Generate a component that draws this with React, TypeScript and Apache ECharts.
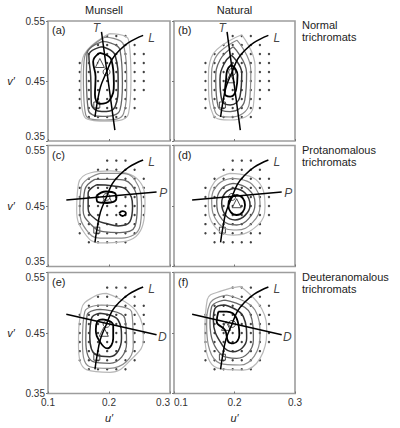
import React, { useEffect, useRef } from "react";
import * as echarts from "echarts";

// ---- data ----
const SAMPLE_U = [0.152, 0.167, 0.182, 0.197, 0.212, 0.227, 0.242, 0.257];
const SAMPLE_V = [0.39, 0.405, 0.42, 0.435, 0.45, 0.465, 0.48, 0.495, 0.51, 0.525];
// first and last sampled column for each row of the stimulus grid (bottom to top)
const SAMPLE_ROWS = [[1, 5], [0, 6], [0, 6], [0, 7], [0, 7], [0, 7], [0, 7], [1, 7], [2, 6], [3, 5]];

const WHITE_POINT = [0.196, 0.465];
const SQUARE_POINT = [0.18, 0.41];

const L_CURVE = [[0.177, 0.39], [0.18, 0.41], [0.186, 0.44], [0.196, 0.465], [0.205, 0.486], [0.216, 0.5], [0.232, 0.514], [0.256, 0.526]];
const T_LINE = [[0.1877, 0.532], [0.2096, 0.368]];
const P_LINE = [[0.13, 0.46], [0.278, 0.473]];
const D_LINE = [[0.13, 0.481], [0.278, 0.447]];

const L_LABEL = [0.27, 0.522];
const T_LABEL = [0.1795, 0.538];
const P_LABEL = [0.289, 0.471];
const D_LABEL = [0.2875, 0.444];

const MEAN_A = [0.185, 0.48];
const MEAN_B = [0.193, 0.4545];
const MEAN_C = [0.197, 0.464];
const MEAN_D = [0.2036, 0.4546];
const MEAN_E = [0.1915, 0.452];
const MEAN_F = [0.186, 0.4618];

const CONTOURS_A = [
  [[0.185, 0.497], [0.204, 0.485], [0.208, 0.446], [0.201, 0.418], [0.185, 0.412], [0.177, 0.427], [0.178, 0.457], [0.174, 0.482]],
  [[0.188, 0.507], [0.21, 0.493], [0.215, 0.446], [0.21, 0.407], [0.188, 0.399], [0.171, 0.413], [0.17, 0.457], [0.167, 0.493]],
  [[0.19, 0.516], [0.218, 0.502], [0.222, 0.446], [0.218, 0.402], [0.19, 0.391], [0.166, 0.402], [0.163, 0.457], [0.164, 0.496]],
  [[0.193, 0.523], [0.224, 0.51], [0.229, 0.446], [0.224, 0.396], [0.193, 0.385], [0.162, 0.393], [0.158, 0.457], [0.16, 0.49]],
  [[0.201, 0.529], [0.232, 0.519], [0.236, 0.452], [0.232, 0.396], [0.201, 0.383], [0.16, 0.39], [0.154, 0.452], [0.157, 0.488]],
];
const CONTOURS_B = [
  [[0.195, 0.477], [0.205, 0.46], [0.2025, 0.435], [0.193, 0.424], [0.184, 0.429], [0.186, 0.452], [0.188, 0.468]],
  [[0.195, 0.493], [0.212, 0.463], [0.209, 0.424], [0.193, 0.41], [0.179, 0.418], [0.176, 0.452], [0.183, 0.479]],
  [[0.198, 0.507], [0.22, 0.463], [0.217, 0.418], [0.193, 0.399], [0.173, 0.407], [0.169, 0.452], [0.176, 0.485]],
  [[0.204, 0.518], [0.227, 0.468], [0.2245, 0.413], [0.193, 0.39], [0.168, 0.399], [0.162, 0.452], [0.168, 0.488]],
  [[0.212, 0.527], [0.234, 0.474], [0.231, 0.407], [0.193, 0.385], [0.165, 0.393], [0.157, 0.452], [0.162, 0.49]],
];
const CONTOURS_C = [
  [[0.1795, 0.467], [0.195, 0.474], [0.21, 0.471], [0.212, 0.462], [0.197, 0.455], [0.181, 0.457]],
  [[0.1795, 0.485], [0.207, 0.483], [0.229, 0.4765], [0.2386, 0.449], [0.2343, 0.424], [0.215, 0.417], [0.196, 0.421], [0.1795, 0.427], [0.1658, 0.446], [0.1658, 0.471]],
  [[0.1767, 0.494], [0.2096, 0.494], [0.237, 0.4847], [0.2463, 0.449], [0.2425, 0.416], [0.2178, 0.406], [0.1904, 0.4076], [0.1713, 0.4186], [0.1576, 0.443], [0.1603, 0.4765]],
  [[0.185, 0.504], [0.2178, 0.504], [0.2425, 0.493], [0.2534, 0.449], [0.2507, 0.416], [0.2206, 0.397], [0.185, 0.397], [0.1631, 0.41], [0.1521, 0.443], [0.1548, 0.482]],
  [[0.2014, 0.508], [0.245, 0.496], [0.259, 0.455], [0.256, 0.421], [0.2233, 0.391], [0.185, 0.389], [0.16, 0.405], [0.147, 0.443], [0.15, 0.487], [0.17, 0.505]],
];
const CONTOUR_C_ISLAND = [[0.2167, 0.438], [0.222, 0.4415], [0.2277, 0.438], [0.222, 0.4335]];
const CONTOURS_D = [
  [[0.2036, 0.4682], [0.2134, 0.4634], [0.2174, 0.4517], [0.2134, 0.44], [0.2036, 0.4351], [0.1938, 0.44], [0.1898, 0.4517], [0.1938, 0.4634]],
  [[0.1995, 0.4792], [0.2175, 0.4715], [0.2257, 0.4517], [0.2175, 0.4345], [0.2009, 0.4269], [0.1855, 0.4345], [0.1788, 0.4544], [0.1845, 0.4715]],
  [[0.198, 0.4875], [0.2225, 0.478], [0.2339, 0.4544], [0.2235, 0.429], [0.2036, 0.4186], [0.18, 0.427], [0.1706, 0.4572], [0.179, 0.479]],
  [[0.1953, 0.4957], [0.229, 0.486], [0.2422, 0.4517], [0.23, 0.423], [0.2036, 0.4103], [0.174, 0.421], [0.1623, 0.4599], [0.173, 0.486]],
  [[0.1926, 0.504], [0.235, 0.494], [0.2504, 0.4489], [0.238, 0.418], [0.1981, 0.402], [0.168, 0.415], [0.1568, 0.4544], [0.167, 0.49]],
];
const CONTOURS_E = [
  [[0.1904, 0.4726], [0.2069, 0.4632], [0.2069, 0.4412], [0.197, 0.4246], [0.185, 0.4357], [0.1784, 0.455], [0.1806, 0.4687]],
  [[0.185, 0.4825], [0.215, 0.4715], [0.2205, 0.4412], [0.2014, 0.4109], [0.1795, 0.4136], [0.1685, 0.4439], [0.1713, 0.4742]],
  [[0.185, 0.4891], [0.226, 0.4742], [0.2288, 0.4329], [0.2014, 0.3999], [0.174, 0.4026], [0.162, 0.4384], [0.1641, 0.4797]],
  [[0.1877, 0.4963], [0.237, 0.4853], [0.2397, 0.4274], [0.2014, 0.3916], [0.1685, 0.3943], [0.1565, 0.4384], [0.1603, 0.4853]],
  [[0.1959, 0.5156], [0.2452, 0.4853], [0.2562, 0.4384], [0.24, 0.41], [0.2014, 0.385], [0.164, 0.389], [0.15, 0.43], [0.155, 0.49], [0.175, 0.51]],
];
const CONTOURS_F = [
  [[0.1733, 0.4853], [0.1871, 0.4853], [0.2036, 0.4742], [0.208, 0.4467], [0.1981, 0.4329], [0.1898, 0.4357], [0.1843, 0.455], [0.1706, 0.4687]],
  [[0.1843, 0.4963], [0.2146, 0.477], [0.2201, 0.4412], [0.1981, 0.4191], [0.1816, 0.4274], [0.165, 0.4715], [0.1678, 0.4908]],
  [[0.1843, 0.5045], [0.2257, 0.4825], [0.2312, 0.4384], [0.2036, 0.4081], [0.1788, 0.4136], [0.1595, 0.466], [0.1623, 0.4935]],
  [[0.1871, 0.5128], [0.2339, 0.488], [0.2422, 0.4439], [0.2091, 0.3971], [0.1761, 0.3999], [0.154, 0.4605], [0.1595, 0.499]],
  [[0.21, 0.527], [0.245, 0.49], [0.2532, 0.45], [0.2146, 0.3888], [0.172, 0.392], [0.151, 0.45], [0.155, 0.505], [0.18, 0.52]],
];

const COLUMN_TITLES = ["Munsell", "Natural"];
const ROW_TITLES = ["Normal\ntrichromats", "Protanomalous\ntrichromats", "Deuteranomalous\ntrichromats"];

const PANELS = [
  { tag: "(a)", contours: CONTOURS_A, extra: [], mean: MEAN_A, line: T_LINE, name: "T", labelAt: T_LABEL },
  { tag: "(b)", contours: CONTOURS_B, extra: [], mean: MEAN_B, line: T_LINE, name: "T", labelAt: T_LABEL },
  { tag: "(c)", contours: CONTOURS_C, extra: [CONTOUR_C_ISLAND], mean: MEAN_C, line: P_LINE, name: "P", labelAt: P_LABEL },
  { tag: "(d)", contours: CONTOURS_D, extra: [], mean: MEAN_D, line: P_LINE, name: "P", labelAt: P_LABEL },
  { tag: "(e)", contours: CONTOURS_E, extra: [], mean: MEAN_E, line: D_LINE, name: "D", labelAt: D_LABEL },
  { tag: "(f)", contours: CONTOURS_F, extra: [], mean: MEAN_F, line: D_LINE, name: "D", labelAt: D_LABEL },
];

// ---- layout / style ----
const FONT = "Liberation Sans, Arial, sans-serif";
const GRID_POS = [
  { left: 48, top: 21, width: 122, height: 120 },
  { left: 174, top: 21, width: 121, height: 120 },
  { left: 48, top: 145.5, width: 122, height: 121 },
  { left: 174, top: 145.5, width: 121, height: 121 },
  { left: 48, top: 272.5, width: 122, height: 121 },
  { left: 174, top: 272.5, width: 121, height: 121 },
];
const CONTOUR_STYLE = [
  { color: "#000000", width: 1.8 },
  { color: "#333333", width: 1.5 },
  { color: "#666666", width: 1.3 },
  { color: "#8c8c8c", width: 1.2 },
  { color: "#b8b8b8", width: 1.2 },
];

function closed(pts: number[][]) {
  return [...pts, pts[0]];
}

function buildOption() {
  const samples: number[][] = [];
  SAMPLE_ROWS.forEach(([a, b], j) => {
    for (let i = a; i <= b; i++) samples.push([SAMPLE_U[i], SAMPLE_V[j]]);
  });

  const grid = GRID_POS.map((g) => ({
    ...g,
    show: true,
    borderColor: "#9d9d9d",
    borderWidth: 1.6,
    backgroundColor: "transparent",
    containLabel: false,
  }));

  const xAxis = GRID_POS.map((_, i) => ({
    type: "value",
    gridIndex: i,
    min: 0.1,
    max: 0.3,
    interval: 0.1,
    axisLine: { show: false },
    splitLine: { show: false },
    axisTick: { show: true, inside: true, length: 2, lineStyle: { color: "#777" } },
    axisLabel: {
      show: i >= 4,
      formatter: (v: number) => v.toFixed(1),
      fontSize: 10,
      fontFamily: FONT,
      color: "#333",
      margin: 4,
      alignMinLabel: i % 2 === 1 ? "left" : "center",
      alignMaxLabel: i % 2 === 0 ? "right" : "center",
    },
  }));

  const yAxis = GRID_POS.map((_, i) => ({
    type: "value",
    gridIndex: i,
    min: 0.35,
    max: 0.55,
    interval: 0.1,
    axisLine: { show: false },
    splitLine: { show: false },
    axisTick: { show: true, inside: false, length: 2, lineStyle: { color: "#777" } },
    axisLabel: {
      show: i % 2 === 0,
      formatter: (v: number) => v.toFixed(2),
      fontSize: 10,
      fontFamily: FONT,
      color: "#333",
      margin: 3,
      verticalAlignMinLabel: i < 4 ? "bottom" : "middle",
      verticalAlignMaxLabel: i > 0 ? "top" : "middle",
    },
  }));

  const series: any[] = [];
  PANELS.forEach((p, i) => {
    const base = { xAxisIndex: i, yAxisIndex: i, silent: true };
    series.push({
      ...base,
      type: "scatter",
      data: samples,
      symbol: "circle",
      symbolSize: 2.4,
      itemStyle: { color: "#111" },
    });
    for (let k = p.contours.length - 1; k >= 0; k--) {
      series.push({
        ...base,
        type: "line",
        data: closed(p.contours[k]),
        smooth: 0.45,
        symbol: "none",
        lineStyle: { color: CONTOUR_STYLE[k].color, width: CONTOUR_STYLE[k].width },
      });
    }
    p.extra.forEach((c) => {
      series.push({
        ...base,
        type: "line",
        data: closed(c),
        smooth: 0.5,
        symbol: "none",
        lineStyle: { color: CONTOUR_STYLE[0].color, width: CONTOUR_STYLE[0].width },
      });
    });
    series.push({
      ...base,
      type: "line",
      data: L_CURVE,
      smooth: 0.4,
      symbol: "none",
      lineStyle: { color: "#000", width: 1.5 },
    });
    series.push({
      ...base,
      type: "line",
      data: p.line,
      symbol: "none",
      lineStyle: { color: "#000", width: 1.5 },
    });
    series.push({
      ...base,
      type: "scatter",
      data: [
        { value: SQUARE_POINT, symbol: "rect", symbolSize: 6 },
        { value: p.mean, symbol: "triangle", symbolSize: 9 },
        { value: WHITE_POINT, symbol: "circle", symbolSize: 7 },
      ],
      itemStyle: { color: "#fff", borderColor: "#222", borderWidth: 1 },
    });
    series.push({
      ...base,
      type: "scatter",
      symbolSize: 1,
      itemStyle: { color: "rgba(0,0,0,0)" },
      data: [
        { value: L_LABEL, name: "L" },
        { value: p.labelAt, name: p.name },
      ],
      label: {
        show: true,
        position: "inside",
        formatter: (d: any) => d.name,
        fontSize: 12,
        fontStyle: "italic",
        fontFamily: FONT,
        color: "#111",
      },
    });
  });

  const graphic: any[] = [];
  COLUMN_TITLES.forEach((t, c) => {
    graphic.push({
      type: "text",
      x: c === 0 ? 104 : 234.5,
      y: 10,
      style: { text: t, fontSize: 11, fontFamily: FONT, fill: "#222", align: "center", verticalAlign: "middle" },
    });
  });
  ROW_TITLES.forEach((t, r) => {
    graphic.push({
      type: "text",
      x: 302,
      y: GRID_POS[r * 2].top - 2,
      style: { text: t, fontSize: 11, lineHeight: 12, fontFamily: FONT, fill: "#222", align: "left", verticalAlign: "top" },
    });
    graphic.push({
      type: "text",
      x: 11,
      y: GRID_POS[r * 2].top + GRID_POS[r * 2].height / 2,
      style: { text: "v\u2032", fontSize: 11, fontStyle: "italic", fontFamily: FONT, fill: "#222", align: "center", verticalAlign: "middle" },
    });
  });
  PANELS.forEach((p, i) => {
    graphic.push({
      type: "text",
      x: GRID_POS[i].left + 4,
      y: GRID_POS[i].top + 9,
      style: { text: p.tag, fontSize: 11, fontFamily: FONT, fill: "#222", align: "left", verticalAlign: "middle" },
    });
  });
  [4, 5].forEach((i) => {
    graphic.push({
      type: "text",
      x: GRID_POS[i].left + GRID_POS[i].width / 2,
      y: 418,
      style: { text: "u\u2032", fontSize: 11, fontStyle: "italic", fontFamily: FONT, fill: "#222", align: "center", verticalAlign: "middle" },
    });
  });

  return {
    animation: false,
    backgroundColor: "#fff",
    grid,
    xAxis,
    yAxis,
    series,
    graphic,
  };
}

export default function App() {
  const ref = useRef<HTMLDivElement>(null);
  useEffect(() => {
    if (!ref.current) return;
    const chart = echarts.init(ref.current, undefined, { renderer: "svg" });
    chart.setOption(buildOption() as any);
    return () => chart.dispose();
  }, []);
  return <div ref={ref} style={{ position: "absolute", left: 0, top: 0, width: 400, height: 428 }} />;
}
